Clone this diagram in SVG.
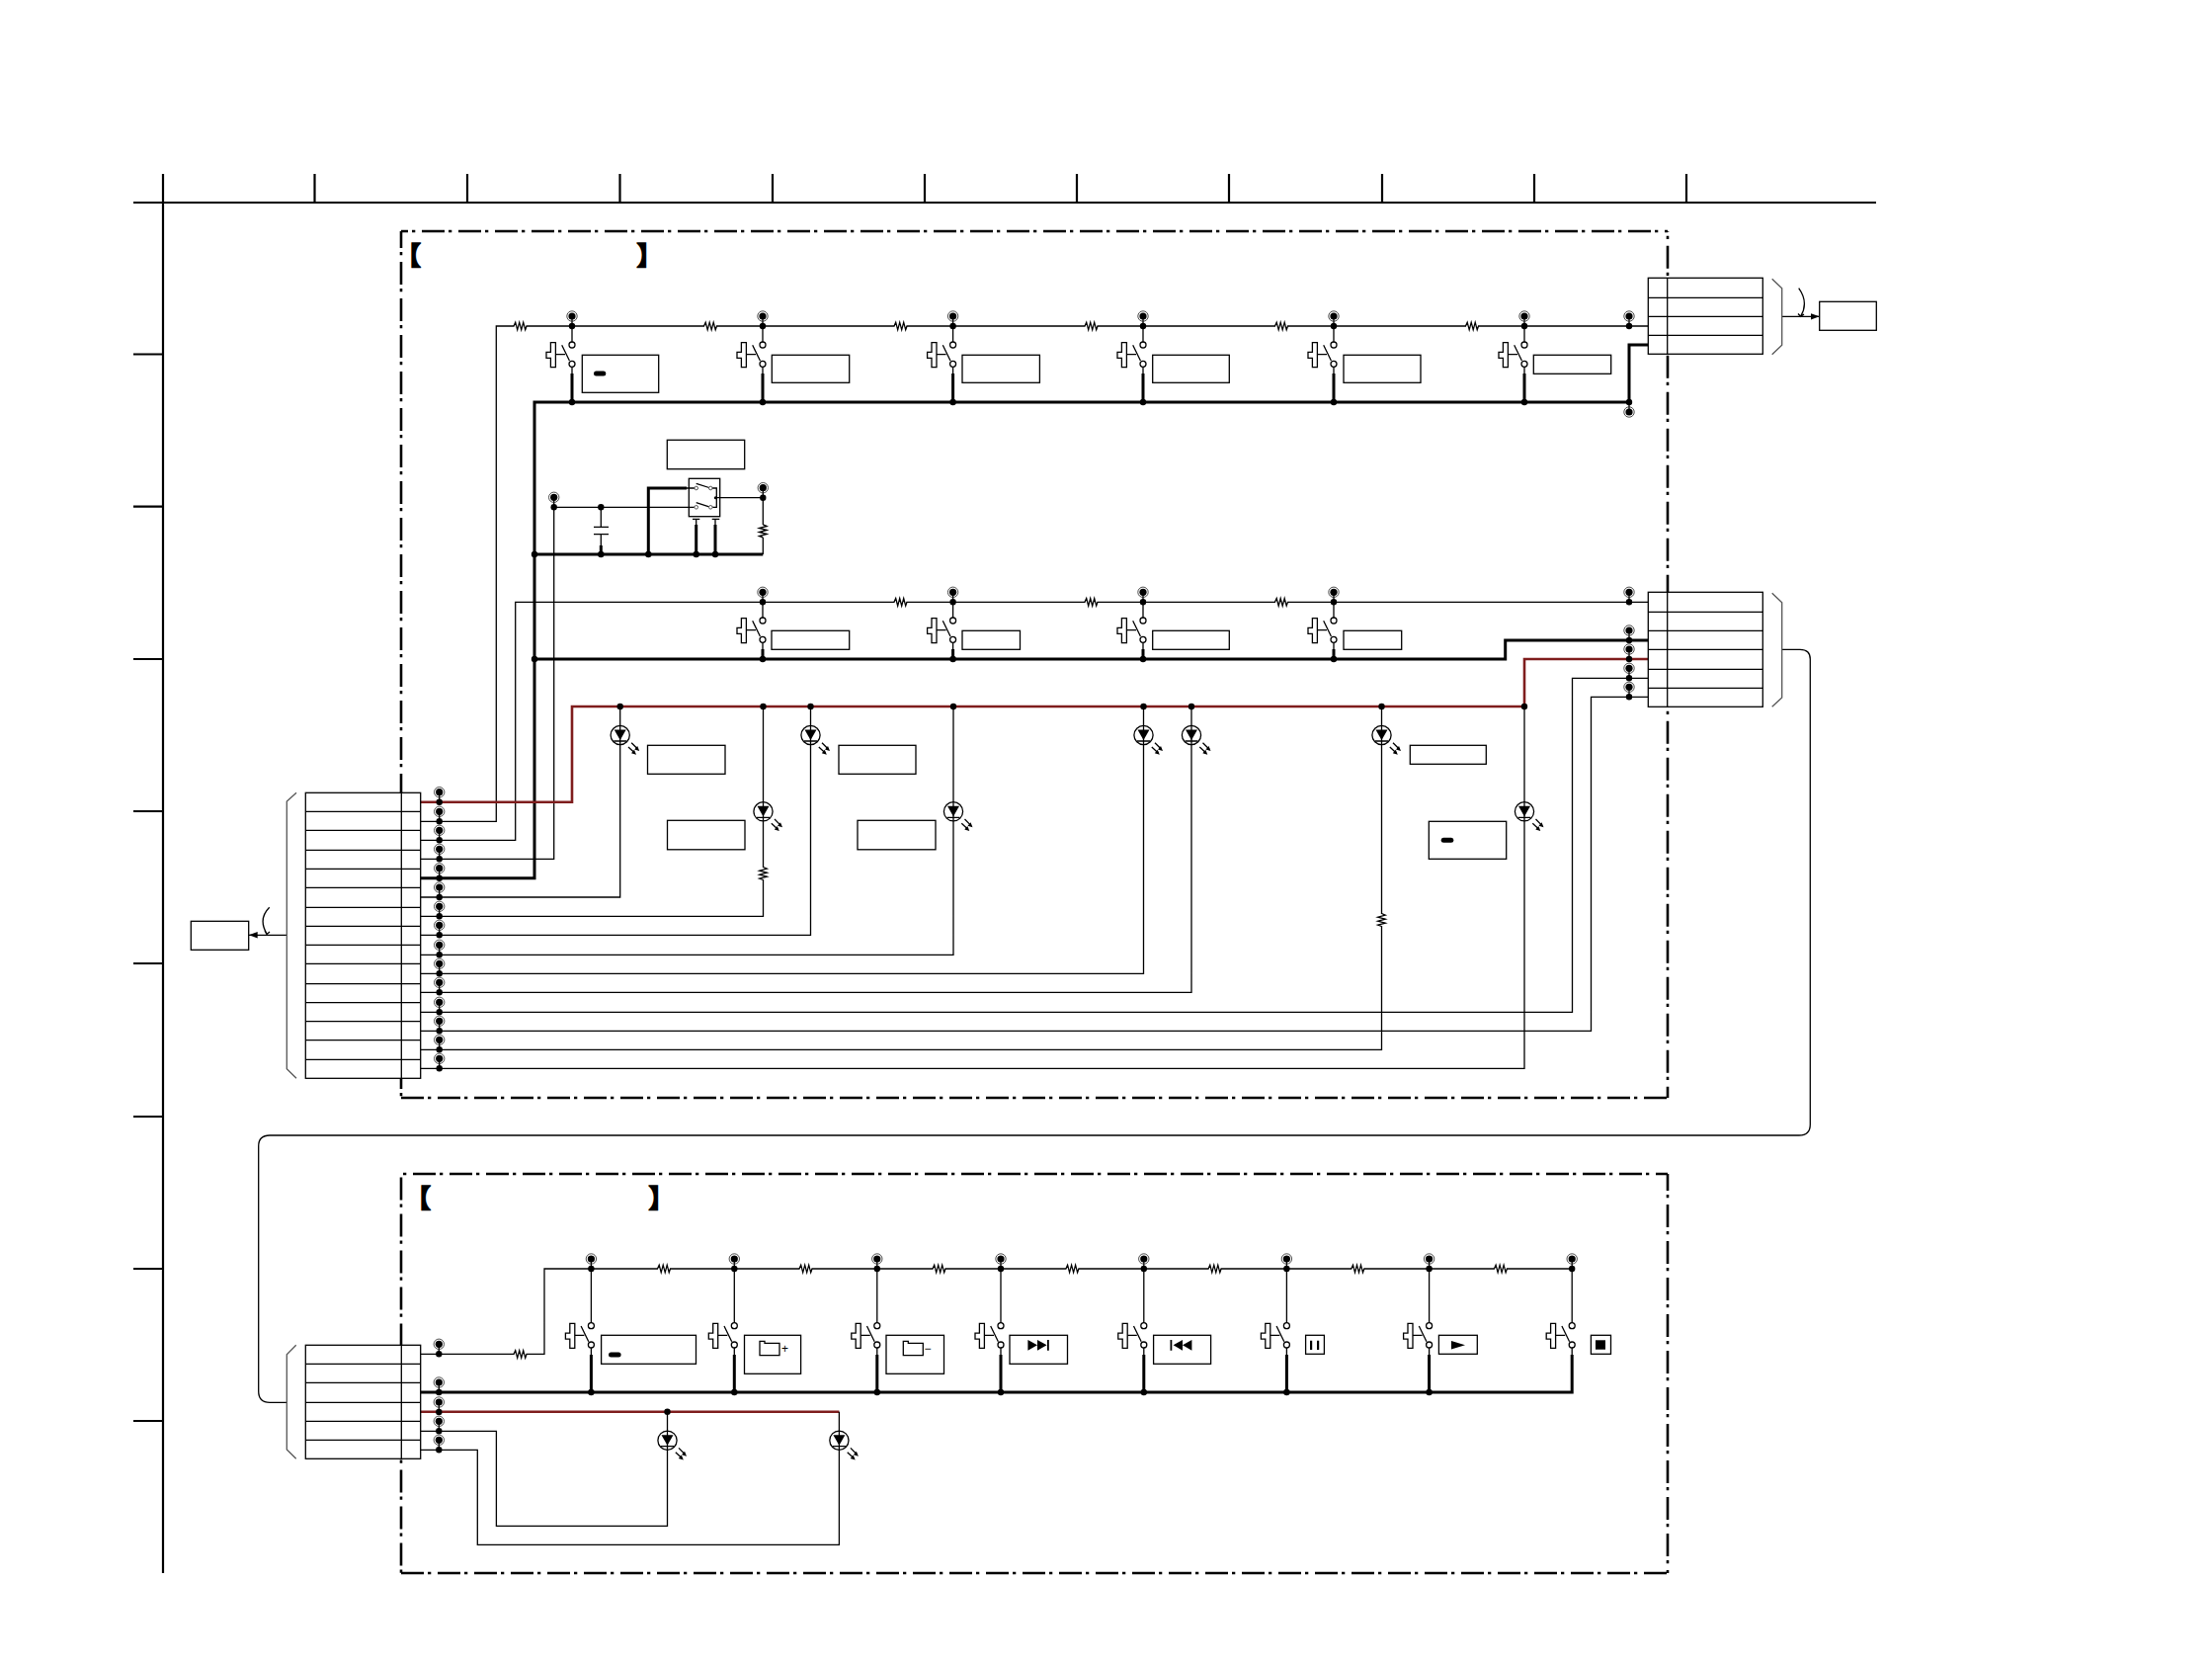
<svg xmlns="http://www.w3.org/2000/svg" xmlns:xlink="http://www.w3.org/1999/xlink" width="2239" height="1684" viewBox="0 0 2239 1684">
<style>
.w{fill:none;stroke:#000;stroke-width:1.3}
.t{fill:none;stroke:#000;stroke-width:3}
.r{fill:none;stroke:#7f1d1d;stroke-width:2.6}
.g{fill:none;stroke:#555;stroke-width:1.3}
.f{fill:none;stroke:#000;stroke-width:2.2}
.d{fill:none;stroke:#000;stroke-width:2.6;stroke-dasharray:23 4 3.3 6.7}
.b{fill:#fff;stroke:#000;stroke-width:1.3}
.k{fill:#000;stroke:none}
.br{font-family:"Noto Sans CJK JP","Noto Sans CJK SC",sans-serif;font-size:26px;font-weight:700;fill:#000;stroke:#000;stroke-width:1.6}
.s{font-family:"Liberation Sans",sans-serif;font-size:12px;fill:#000}
</style>
<defs>
<marker id="ah" markerUnits="userSpaceOnUse" markerWidth="10" markerHeight="8" refX="9" refY="4" orient="auto"><path d="M0,0.8L9,4L0,7.2z" fill="#000"/></marker>
<g id="tp"><path d="M0,-10V0" class="w" stroke-width="1.5"/><circle r="3.2" class="k"/><circle cy="-10" r="3.6" class="k"/><circle cy="-10" r="5.2" fill="none" stroke="#222" stroke-width="0.8"/></g>
<circle id="j" r="3.2" class="k"/>
<g id="sw"><circle cy="0" r="3" class="b"/><circle cy="19.3" r="3" class="b"/><path d="M-10.3,0.3L-2.6,16M-16.6,9.7H-7" class="w"/><path d="M-21.6,-2.3h5v25h-5v-9.3h-4.4v-6h4.4z" class="b"/></g>
<g id="res"><rect x="-6" y="-1.5" width="12" height="3" fill="#fff"/><path d="M-6.5,0L-4.8,-3.8L-2.8,3.8L-0.8,-3.8L1.2,3.8L3.2,-3.8L5.2,3.8L6.5,0" class="w"/></g>
<g id="resv"><rect x="-1.5" y="-6" width="3" height="12" fill="#fff"/><path d="M0,-6.5L3.8,-4.8L-3.8,-2.8L3.8,-0.8L-3.8,1.2L3.8,3.2L-3.8,5.2L0,6.5" class="w"/></g>
<g id="led"><circle r="9.6" fill="#fff" stroke="#000" stroke-width="1.3"/><path d="M0,-9.6V9.6M-6.5,6H6.5" class="w"/><path d="M-6,-5.5H6L0,5z" class="k"/><path d="M11.5,7.7L18,14.3M8.3,12L14.8,18" class="w"/><path d="M19.5,16L14.5,14.5L17.5,11zM16.3,19.7L11.3,18.2L14.3,14.7z" class="k"/></g>
<g id="fold"><path d="M0,0H5V2H20V14.4H0z" class="b"/></g>
</defs>
<g id="grid">
<path class="f" d="M135,205H1899M165,176V1592M318.5,176V205M473,176V205M627.5,176V205M782,176V205M936,176V205M1090,176V205M1244,176V205M1399,176V205M1553,176V205M1707,176V205M135,358.5H165M135,512.7H165M135,667H165M135,821H165M135,975H165M135,1130H165M135,1284H165M135,1438H165"/>
</g>
<g id="frame-upper">
<path class="d" stroke-dashoffset="16" d="M406,234H1688"/><path class="d" stroke-dashoffset="6" d="M406,234V1111"/><path class="d" stroke-dashoffset="22.3" d="M1688,234V1111"/><path class="d" d="M406,1111H1688"/>
<text class="br" x="400" y="268">【</text><text class="br" x="644.5" y="268">】</text>
</g>
<g id="frame-lower">
<path class="d" stroke-dashoffset="25" d="M406,1188H1688"/><path class="d" stroke-dashoffset="33.6" d="M406,1188V1592"/><path class="d" stroke-dashoffset="6" d="M1688,1188V1592"/><path class="d" d="M406,1592H1688"/>
<text class="br" x="410" y="1222">【</text><text class="br" x="656.5" y="1222">】</text>
</g>
<g id="connectors">
<path class="w" d="M425.7,831.3H502.3V330H1668.3"/>
<path class="w" d="M579,330V346M579,371V378M772,330V346M772,371V378M964.6,330V346M964.6,371V378M1157,330V346M1157,371V378M1350,330V346M1350,371V378M1543,330V346M1543,371V378"/>
<path class="t" d="M579,378V407M772,378V407M964.6,378V407M1157,378V407M1350,378V407M1543,378V407"/>
<path class="t" d="M425.7,888.7H541V407H1649V349H1668.3"/>
<path class="w" d="M425.7,869.3H560.7V513.3H704.7"/>
<path class="w" d="M608.3,513.3V533.3M608.3,540.7V552M601,533.3H616M601,540.7H616"/>
<path class="t" d="M608.3,552V561M541,561H772.3M656.3,561V494H695M704.7,531V561M724,531V561"/>
<path class="w" d="M695,494H704.7M704.7,525.3V531M724,525.3V531M701,525.3H708.3M720.7,525.3H728.3M724.3,503.7H772.3V531M772.3,544V561M719.3,494H725.3V513.3H719.3M704.7,489.3L719.3,494M704.7,508.7L719.3,513.3"/>
<path class="w" d="M425.7,850.3H521.7V609.3H1668.3"/>
<path class="w" d="M772,609.3V625M772,650V657M964.6,609.3V625M964.6,650V657M1157,609.3V625M1157,650V657M1350,609.3V625M1350,650V657"/>
<path class="t" d="M772,657V667M964.6,657V667M1157,657V667M1350,657V667"/>
<path class="t" d="M541,667H1523.7V648H1668.3"/>
<path class="r" d="M425.7,811.7H579V715H1543V667H1668.3"/>
<path class="w" d="M425.7,908H627.7V715M425.7,927.3H772.5V715M425.7,946.3H820.5V715M425.7,966.3H965V715M425.7,985.3H1157.5V715M425.7,1004.3H1206V715M425.7,1024.3H1591.5V686.3H1668.3M425.7,1043.3H1610.5V705.3H1668.3M425.7,1062.3H1398.5V715M425.7,1081.3H1543V715"/>
<path class="w" d="M1803.7,657.3H1822Q1832.3,657.3 1832.3,667V1138Q1832.3,1149 1821,1149H273Q261.7,1149 261.7,1160V1408Q261.7,1419.3 273,1419.3H290.3"/>
<path class="w" d="M425.7,1370.3H551V1284H1591M598.4,1284V1338.7M743.3,1284V1338.7M887.8,1284V1338.7M1013,1284V1338.7M1157.8,1284V1338.7M1302.4,1284V1338.7M1446.6,1284V1338.7M1591.2,1284V1338.7M598.4,1364V1371M743.3,1364V1371M887.8,1364V1371M1013,1364V1371M1157.8,1364V1371M1302.4,1364V1371M1446.6,1364V1371M1591.2,1364V1371"/>
<path class="t" d="M425.7,1409H1591.2V1371M598.4,1371V1409M743.3,1371V1409M887.8,1371V1409M1013,1371V1409M1157.8,1371V1409M1302.4,1371V1409M1446.6,1371V1409"/>
<path class="r" d="M425.7,1428.7H849.4"/>
<path class="w" d="M425.7,1448.3H502.4V1544.3H675.5V1428.7M425.7,1467.3H483.3V1563.3H849.4V1428.7"/>
<path class="w" d="M290.3,946.3H251.7" marker-end="url(#ah)"/>
<path class="w" d="M1803.7,320.3H1841.7" marker-end="url(#ah)"/>
<path class="w" d="M272.7,918.3Q261,930 270,945M268,942L270,945.5L273,943M1820.7,291.7Q1831,306 1822.7,320M1826,318L1822.7,320.3L1820,317.5"/>
</g>
<g id="junctions">
<use href="#tp" x="579" y="330"/><use href="#tp" x="772" y="330"/><use href="#tp" x="964.6" y="330"/><use href="#tp" x="1157" y="330"/><use href="#tp" x="1350" y="330"/><use href="#tp" x="1543" y="330"/><use href="#tp" x="1649" y="330"/>
<use href="#j" x="579" y="407"/><use href="#j" x="772" y="407"/><use href="#j" x="964.6" y="407"/><use href="#j" x="1157" y="407"/><use href="#j" x="1350" y="407"/><use href="#j" x="1543" y="407"/>
<use href="#tp" transform="translate(1649,407) scale(1,-1)"/>
<use href="#tp" x="560.7" y="513.3"/><use href="#tp" x="772.3" y="503.7"/>
<use href="#j" x="608.3" y="513.3"/><use href="#j" x="541" y="561"/><use href="#j" x="608.3" y="561"/><use href="#j" x="656.3" y="561"/><use href="#j" x="704.7" y="561"/><use href="#j" x="724" y="561"/><use href="#j" x="541" y="667"/>
<use href="#tp" x="772" y="609.3"/><use href="#tp" x="964.6" y="609.3"/><use href="#tp" x="1157" y="609.3"/><use href="#tp" x="1350" y="609.3"/><use href="#tp" x="1649" y="609.3"/>
<use href="#tp" x="1649" y="648"/><use href="#tp" x="1649" y="667"/><use href="#tp" x="1649" y="686.3"/><use href="#tp" x="1649" y="705.3"/>
<use href="#j" x="772" y="667"/><use href="#j" x="964.6" y="667"/><use href="#j" x="1157" y="667"/><use href="#j" x="1350" y="667"/>
<use href="#j" x="627.7" y="715"/><use href="#j" x="772.5" y="715"/><use href="#j" x="820.5" y="715"/><use href="#j" x="965" y="715"/><use href="#j" x="1157.5" y="715"/><use href="#j" x="1206" y="715"/><use href="#j" x="1398.5" y="715"/><use href="#j" x="1543" y="715"/>
<use href="#tp" x="444.7" y="811.7"/><use href="#tp" x="444.7" y="831.3"/><use href="#tp" x="444.7" y="850.3"/><use href="#tp" x="444.7" y="869.3"/><use href="#tp" x="444.7" y="888.7"/><use href="#tp" x="444.7" y="908"/><use href="#tp" x="444.7" y="927.3"/><use href="#tp" x="444.7" y="946.3"/><use href="#tp" x="444.7" y="966.3"/><use href="#tp" x="444.7" y="985.3"/><use href="#tp" x="444.7" y="1004.3"/><use href="#tp" x="444.7" y="1024.3"/><use href="#tp" x="444.7" y="1043.3"/><use href="#tp" x="444.7" y="1062.3"/><use href="#tp" x="444.7" y="1081.3"/>
<use href="#tp" x="444.3" y="1370.3"/><use href="#tp" x="444.3" y="1409"/><use href="#tp" x="444.3" y="1429"/><use href="#tp" x="444.3" y="1448.3"/><use href="#tp" x="444.3" y="1467.3"/>
<use href="#tp" x="598.4" y="1284"/><use href="#tp" x="743.3" y="1284"/><use href="#tp" x="887.8" y="1284"/><use href="#tp" x="1013" y="1284"/><use href="#tp" x="1157.8" y="1284"/><use href="#tp" x="1302.4" y="1284"/><use href="#tp" x="1446.6" y="1284"/><use href="#tp" x="1591.2" y="1284"/>
<use href="#j" x="598.4" y="1409"/><use href="#j" x="743.3" y="1409"/><use href="#j" x="887.8" y="1409"/><use href="#j" x="1013" y="1409"/><use href="#j" x="1157.8" y="1409"/><use href="#j" x="1302.4" y="1409"/><use href="#j" x="1446.6" y="1409"/>
<use href="#j" x="675.5" y="1428.7"/>
</g>
<g id="resistors">
<use href="#res" x="526.5" y="330"/><use href="#res" x="719" y="330"/><use href="#res" x="911.5" y="330"/><use href="#res" x="1104.5" y="330"/><use href="#res" x="1297" y="330"/><use href="#res" x="1490" y="330"/>
<use href="#res" x="911.5" y="609.3"/><use href="#res" x="1104.5" y="609.3"/><use href="#res" x="1297" y="609.3"/>
<use href="#resv" x="772.3" y="537.3"/><use href="#resv" x="772.5" y="884"/><use href="#resv" x="1398.5" y="931"/>
<use href="#res" x="526.5" y="1370.5"/>
<use href="#res" x="672" y="1284"/><use href="#res" x="815.5" y="1284"/><use href="#res" x="950.5" y="1284"/><use href="#res" x="1085.4" y="1284"/><use href="#res" x="1229.6" y="1284"/><use href="#res" x="1374.3" y="1284"/><use href="#res" x="1518.9" y="1284"/>
</g>
<g id="sw-a1"><use href="#sw" x="579" y="349"/><rect class="b" x="589.3" y="359.3" width="77.4" height="38"/><rect class="k" x="601" y="375.5" width="12.3" height="5" rx="2.5"/></g>
<g id="sw-a2"><use href="#sw" x="772" y="349"/><rect class="b" x="781.3" y="359.3" width="78.4" height="28"/></g>
<g id="sw-a3"><use href="#sw" x="964.6" y="349"/><rect class="b" x="974" y="359.3" width="78.4" height="28"/></g>
<g id="sw-a4"><use href="#sw" x="1157" y="349"/><rect class="b" x="1166.7" y="359.3" width="77.6" height="28"/></g>
<g id="sw-a5"><use href="#sw" x="1350" y="349"/><rect class="b" x="1360" y="359.3" width="78" height="28"/></g>
<g id="sw-a6"><use href="#sw" x="1543" y="349"/><rect class="b" x="1552.3" y="359.3" width="78.4" height="19"/></g>
<g id="sw-b1"><use href="#sw" x="772" y="628"/><rect class="b" x="781" y="638.3" width="78.7" height="19"/></g>
<g id="sw-b2"><use href="#sw" x="964.6" y="628"/><rect class="b" x="974" y="638.3" width="58.5" height="19"/></g>
<g id="sw-b3"><use href="#sw" x="1157" y="628"/><rect class="b" x="1166.7" y="638.3" width="77.6" height="19"/></g>
<g id="sw-b4"><use href="#sw" x="1350" y="628"/><rect class="b" x="1360" y="638.3" width="58.7" height="19"/></g>
<g id="slide-switch"><rect class="b" x="675.3" y="445.3" width="78.4" height="29.4"/><rect x="697.3" y="484.3" width="31.4" height="38.4" fill="none" stroke="#000" stroke-width="1.3"/>
<circle cx="704.7" cy="494" r="1.8" fill="#fff" stroke="#555"/><circle cx="719.3" cy="494" r="1.8" fill="#fff" stroke="#555"/><circle cx="704.7" cy="513.3" r="1.8" fill="#fff" stroke="#555"/><circle cx="719.3" cy="513.3" r="1.8" fill="#fff" stroke="#555"/><circle cx="724.3" cy="503.7" r="1.5" class="k"/></g>
<g id="led-1"><use href="#led" x="627.7" y="744"/><rect class="b" x="655.5" y="754.3" width="78.5" height="29"/></g>
<g id="led-2"><use href="#led" x="772.5" y="821.3"/><rect class="b" x="675.5" y="830.3" width="78.5" height="29.5"/></g>
<g id="led-3"><use href="#led" x="820.5" y="744"/><rect class="b" x="849" y="754.3" width="78" height="29"/></g>
<g id="led-4"><use href="#led" x="965" y="821.3"/><rect class="b" x="868" y="830.3" width="79" height="29.5"/></g>
<g id="led-5"><use href="#led" x="1157.5" y="744"/></g>
<g id="led-6"><use href="#led" x="1206" y="744"/></g>
<g id="led-7"><use href="#led" x="1398.5" y="744"/><rect class="b" x="1427.3" y="754.3" width="77" height="19"/></g>
<g id="led-8"><use href="#led" x="1543" y="821.3"/><rect class="b" x="1446.3" y="831.3" width="78.4" height="38"/><rect class="k" x="1458.7" y="847.8" width="12.6" height="5" rx="2.5"/></g>
<g id="led-9"><use href="#led" x="675.5" y="1457.7"/></g>
<g id="led-10"><use href="#led" x="849.4" y="1457.7"/></g>
<g id="conn-left">
<path class="g" d="M300,802.3L290.3,811V1081.7L300,1091.3"/>
<rect class="b" x="309.3" y="802.3" width="116.4" height="289"/>
<path class="w" d="M406.3,802.3V1091.3M309.3,821.3H425.7M309.3,840.3H425.7M309.3,860.3H425.7M309.3,879.3H425.7M309.3,898.3H425.7M309.3,918.3H425.7M309.3,937.3H425.7M309.3,956.3H425.7M309.3,975.3H425.7M309.3,995.7H425.7M309.3,1014.7H425.7M309.3,1033.7H425.7M309.3,1052.7H425.7M309.3,1072.3H425.7"/>
</g>
<g id="box-left"><rect class="b" x="193.3" y="932.3" width="58.4" height="29"/></g>
<g id="conn-right-1">
<path class="g" d="M1793.7,282.3L1803.7,291.7V349.3L1793.7,358.7"/>
<rect class="b" x="1668.3" y="281.3" width="116" height="77"/>
<path class="w" d="M1687.7,281.3V358.3M1668.3,301.3H1784.3M1668.3,320.3H1784.3M1668.3,339.3H1784.3"/>
</g>
<g id="box-right"><rect class="b" x="1841.7" y="305.3" width="57.6" height="29"/></g>
<g id="conn-right-2">
<path class="g" d="M1793.7,600.3L1803.7,609.7V706L1793.7,715.3"/>
<rect class="b" x="1668.3" y="599.3" width="116" height="116"/>
<path class="w" d="M1687.7,599.3V715.3M1668.3,619.3H1784.3M1668.3,638.3H1784.3M1668.3,657.3H1784.3M1668.3,677.3H1784.3M1668.3,696.3H1784.3"/>
</g>
<g id="conn-lower">
<path class="g" d="M299.7,1361.3L290.3,1370.7V1467L299.7,1476.3"/>
<rect class="b" x="309.3" y="1361.3" width="116.4" height="115"/>
<path class="w" d="M406.3,1361.3V1476.3M309.3,1380.3H425.7M309.3,1399.3H425.7M309.3,1419.3H425.7M309.3,1438.3H425.7M309.3,1457.3H425.7"/>
</g>
<g id="sw-c1"><use href="#sw" x="598.4" y="1341.7"/><rect class="b" x="608.6" y="1351.3" width="95.9" height="29"/><rect class="k" x="616" y="1368.5" width="12.6" height="5" rx="2.5"/></g>
<g id="sw-c2"><use href="#sw" x="743.3" y="1341.7"/><rect class="b" x="753.5" y="1351.3" width="57.1" height="39"/><use href="#fold" x="769" y="1357.3"/><text class="s" x="791" y="1369">+</text></g>
<g id="sw-c3"><use href="#sw" x="887.8" y="1341.7"/><rect class="b" x="897" y="1351.3" width="58.5" height="39"/><use href="#fold" x="914.3" y="1357.3"/><text class="s" x="935.5" y="1369">−</text></g>
<g id="sw-c4"><use href="#sw" x="1013" y="1341.7"/><rect class="b" x="1022" y="1351.3" width="58.5" height="29"/><path class="k" d="M1040.4,1356L1050,1361.3L1040.4,1366.7zM1050,1356L1059.6,1361.3L1050,1366.7zM1060,1356h1.8v10.7h-1.8z"/></g>
<g id="sw-c5"><use href="#sw" x="1157.8" y="1341.7"/><rect class="b" x="1167.6" y="1351.3" width="58" height="29"/><path class="k" d="M1206.4,1356L1197,1361.3L1206.4,1366.7zM1197,1356L1187.6,1361.3L1197,1366.7zM1186.3,1356h-1.8v10.7h1.8z"/></g>
<g id="sw-c6"><use href="#sw" x="1302.4" y="1341.7"/><rect class="b" x="1321.6" y="1351.3" width="18.8" height="19"/><path class="k" d="M1326,1356.7h2.2v9.3h-2.2zM1333,1356.7h2.2v9.3h-2.2z"/></g>
<g id="sw-c7"><use href="#sw" x="1446.6" y="1341.7"/><rect class="b" x="1456.4" y="1351.3" width="38.9" height="19"/><path class="k" d="M1469,1357L1483,1361.2L1469,1365.4z"/></g>
<g id="sw-c8"><use href="#sw" x="1591.2" y="1341.7"/><rect class="b" x="1610.4" y="1351.3" width="20.1" height="19"/><rect class="k" x="1615" y="1356.3" width="10" height="9.4"/></g>
</svg>
